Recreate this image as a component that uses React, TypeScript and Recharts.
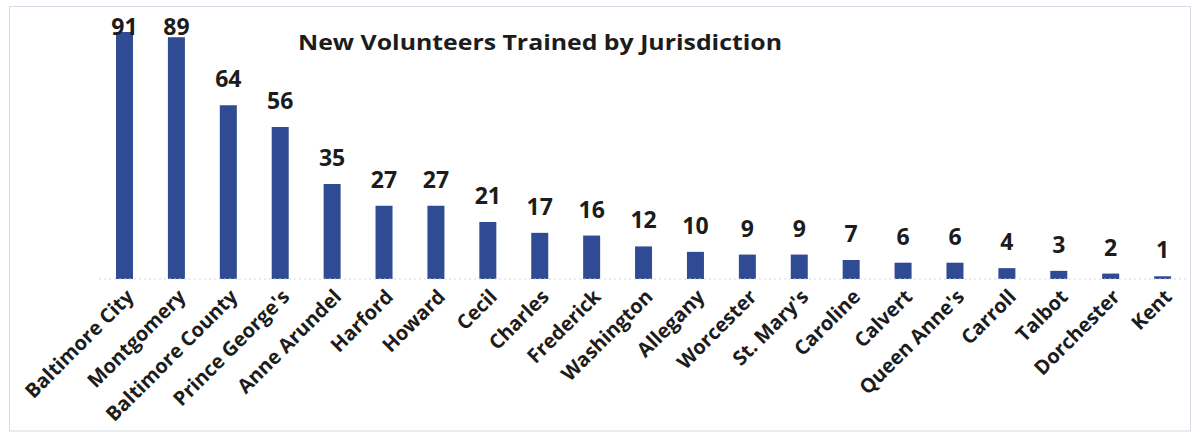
import React from "react";
import { BarChart, Bar, XAxis, YAxis, LabelList } from "recharts";

const categories = [
  "Baltimore City", "Montgomery", "Baltimore County", "Prince George's", "Anne Arundel",
  "Harford", "Howard", "Cecil", "Charles", "Frederick", "Washington", "Allegany",
  "Worcester", "St. Mary's", "Caroline", "Calvert", "Queen Anne's", "Carroll",
  "Talbot", "Dorchester", "Kent",
];
const volunteers = [91, 89, 64, 56, 35, 27, 27, 21, 17, 16, 12, 10, 9, 9, 7, 6, 6, 4, 3, 2, 1];
const title = "New Volunteers Trained by Jurisdiction";

const data = categories.map((name, i) => ({ name, value: volunteers[i] }));

const FONT = "'Open Sans', 'DejaVu Sans', sans-serif";

const Tick = (props: any) => {
  const { x, y, payload } = props;
  return (
    <g transform={`translate(${x + 10},${y + 11})`}>
      <text
        transform="rotate(-45)"
        textAnchor="end"
        fontFamily={FONT}
        fontWeight={700}
        fontSize={20}
        fill="#1c1c1c"
      >
        {payload.value}
      </text>
    </g>
  );
};

const ValueLabel = (props: any) => {
  const { x, y, width, value } = props;
  const ty = Math.max(Number(y) - 18, 35);
  return (
    <text
      x={Number(x) + Number(width) / 2}
      y={ty}
      textAnchor="middle"
      fontFamily={FONT}
      fontWeight={700}
      fontSize={23}
      fill="#1c1c1c"
    >
      {value}
    </text>
  );
};

export default function App() {
  return (
    <div style={{ position: "absolute", left: 0, top: 0, width: 1193, height: 436, background: "#fff" }}>
      <BarChart
        width={1193}
        height={436}
        data={data}
        margin={{ top: 7.5, right: 4, left: 99, bottom: 7 }}
      >
        <XAxis
          dataKey="name"
          interval={0}
          height={150}
          tickLine={false}
          axisLine={{ stroke: "#d6d6d6", strokeDasharray: "2 3" }}
          tick={<Tick />}
        />
        <YAxis hide domain={[0, 100]} />
        <Bar dataKey="value" fill="#2E4B94" barSize={17} isAnimationActive={false}>
          <LabelList dataKey="value" content={<ValueLabel />} />
        </Bar>
      </BarChart>
      <svg
        width={1193}
        height={436}
        style={{ position: "absolute", left: 0, top: 0, pointerEvents: "none" }}
      >
        <rect x={9.5} y={6.5} width={1181} height={424.5} fill="none" stroke="#d3dbe6" strokeWidth={1} />
        <text
          x={540}
          y={50}
          textAnchor="middle"
          fontFamily={FONT}
          fontWeight={700}
          fontSize={22}
          fill="#1c1c1c"
          textLength={484}
          lengthAdjust="spacingAndGlyphs"
        >
          {title}
        </text>
      </svg>
    </div>
  );
}
